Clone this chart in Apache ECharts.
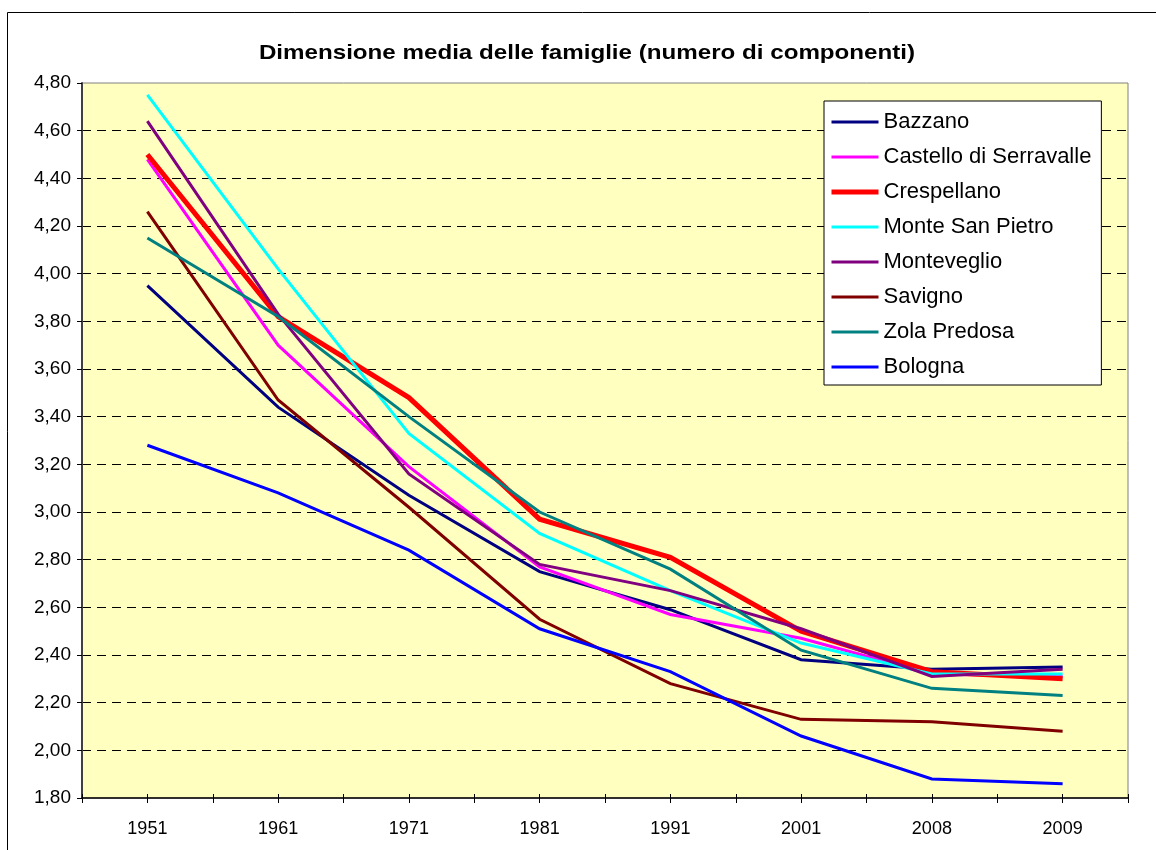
<!DOCTYPE html>
<html>
<head>
<meta charset="utf-8">
<script src="https://cdn.jsdelivr.net/npm/echarts@6/dist/echarts.min.js"></script>
<style>
  html, body { margin: 0; padding: 0; background: #ffffff; }
  #chart { width: 1156px; height: 850px; }
</style>
</head>
<body>
<div id="chart"></div>
<script>
// Census years
const years = ['1951', '1961', '1971', '1981', '1991', '2001', '2008', '2009'];

// Average household size per municipality
const bazzano     = [3.95, 3.44, 3.07, 2.75, 2.59, 2.38, 2.34, 2.35];
const castello    = [4.48, 3.70, 3.19, 2.77, 2.57, 2.47, 2.32, 2.31];
const crespellano = [4.50, 3.82, 3.48, 2.97, 2.81, 2.50, 2.33, 2.30];
const monteSP     = [4.75, 4.02, 3.33, 2.91, 2.67, 2.45, 2.32, 2.32];
const monteveglio = [4.64, 3.83, 3.16, 2.78, 2.67, 2.51, 2.31, 2.34];
const savigno     = [4.26, 3.47, 3.02, 2.55, 2.28, 2.13, 2.12, 2.08];
const zola        = [4.15, 3.82, 3.40, 3.00, 2.76, 2.42, 2.26, 2.23];
const bologna     = [3.28, 3.08, 2.84, 2.51, 2.33, 2.06, 1.88, 1.86];

const seriesDefs = [
  { name: 'Bazzano',                data: bazzano,     color: '#000080', width: 3 },
  { name: 'Castello di Serravalle', data: castello,    color: '#FF00FF', width: 3 },
  { name: 'Crespellano',            data: crespellano, color: '#FF0000', width: 5 },
  { name: 'Monte San Pietro',       data: monteSP,     color: '#00FFFF', width: 3 },
  { name: 'Monteveglio',            data: monteveglio, color: '#800080', width: 3 },
  { name: 'Savigno',                data: savigno,     color: '#800000', width: 3 },
  { name: 'Zola Predosa',           data: zola,        color: '#008080', width: 3 },
  { name: 'Bologna',                data: bologna,     color: '#0000FF', width: 3 }
];

const TITLE = 'Dimensione media delle famiglie (numero di componenti)';
const FONT = '"Liberation Sans", Arial, sans-serif';

const chart = echarts.init(document.getElementById('chart'), null, { renderer: 'canvas' });

// Category axes sharing the grid: one carries the line and labels,
// the others only add crossing tick marks at boundaries and at category centres.
function tickAxis(alignWithLabel, inside, length) {
  return {
    type: 'category',
    data: years,
    position: 'bottom',
    boundaryGap: true,
    axisLine: { show: false },
    axisLabel: { show: false },
    splitLine: { show: false },
    axisTick: { show: true, alignWithLabel: alignWithLabel, inside: inside, length: length,
                lineStyle: { color: '#000', width: 1 } }
  };
}

const option = {
  animation: false,
  backgroundColor: '#ffffff',
  graphic: [
    {
      type: 'rect',
      shape: { x: 7.5, y: 12.5, width: 1300, height: 1000 },
      style: { fill: null, stroke: '#000', lineWidth: 1 },
      silent: true,
      z: -10
    },
    {
      // chart title, stretched slightly wider than the plain font
      type: 'text',
      x: 587,
      y: 53,
      scaleX: 1.15,
      style: {
        text: TITLE,
        font: 'bold 21px ' + FONT,
        fill: '#000',
        align: 'center',
        verticalAlign: 'middle'
      },
      silent: true
    }
  ],
  legend: {
    orient: 'vertical',
    left: 824,
    top: 101,
    padding: [10, 10, 7, 5],
    backgroundColor: '#ffffff',
    borderColor: '#000000',
    borderWidth: 1,
    itemWidth: 47,
    itemHeight: 14,
    itemGap: 13,
    selectedMode: false,
    itemStyle: { opacity: 0 },
    textStyle: { fontFamily: FONT, fontSize: 22, color: '#000', lineHeight: 22 },
    data: seriesDefs.map(s => ({
      name: s.name,
      lineStyle: { color: s.color, width: s.width }
    }))
  },
  grid: {
    left: 82,
    right: 28,
    top: 83,
    bottom: 52,
    show: true,
    backgroundColor: '#FFFFC0',
    borderColor: '#808080',
    borderWidth: 1
  },
  xAxis: [
    {
      type: 'category',
      data: years,
      position: 'bottom',
      boundaryGap: true,
      axisLine: { show: true, lineStyle: { color: '#000', width: 1.5 } },
      axisTick: { show: true, alignWithLabel: false, length: 5, lineStyle: { color: '#000', width: 1 } },
      axisLabel: { fontFamily: FONT, fontSize: 18, color: '#000', margin: 22 },
      splitLine: { show: false }
    },
    tickAxis(false, true, 4),
    tickAxis(true, false, 5),
    tickAxis(true, true, 4)
  ],
  yAxis: {
    type: 'value',
    min: 1.8,
    max: 4.8,
    interval: 0.2,
    axisLine: { show: true, lineStyle: { color: '#404040', width: 2 } },
    axisTick: { show: true, length: 5, lineStyle: { color: '#000', width: 1 } },
    axisLabel: {
      fontFamily: FONT, fontSize: 19, color: '#000', margin: 11,
      formatter: v => v.toFixed(2).replace('.', ',')
    },
    splitLine: {
      show: true,
      showMinLine: false,
      showMaxLine: false,
      lineStyle: { color: '#000', width: 1, type: [9, 6] }
    }
  },
  series: seriesDefs.map(s => ({
    name: s.name,
    type: 'line',
    data: s.data,
    xAxisIndex: 0,
    symbol: 'none',
    showSymbol: false,
    smooth: false,
    color: s.color,
    lineStyle: { color: s.color, width: s.width, join: 'miter' },
    emphasis: { disabled: true }
  }))
};

chart.setOption(option);
</script>
</body>
</html>
